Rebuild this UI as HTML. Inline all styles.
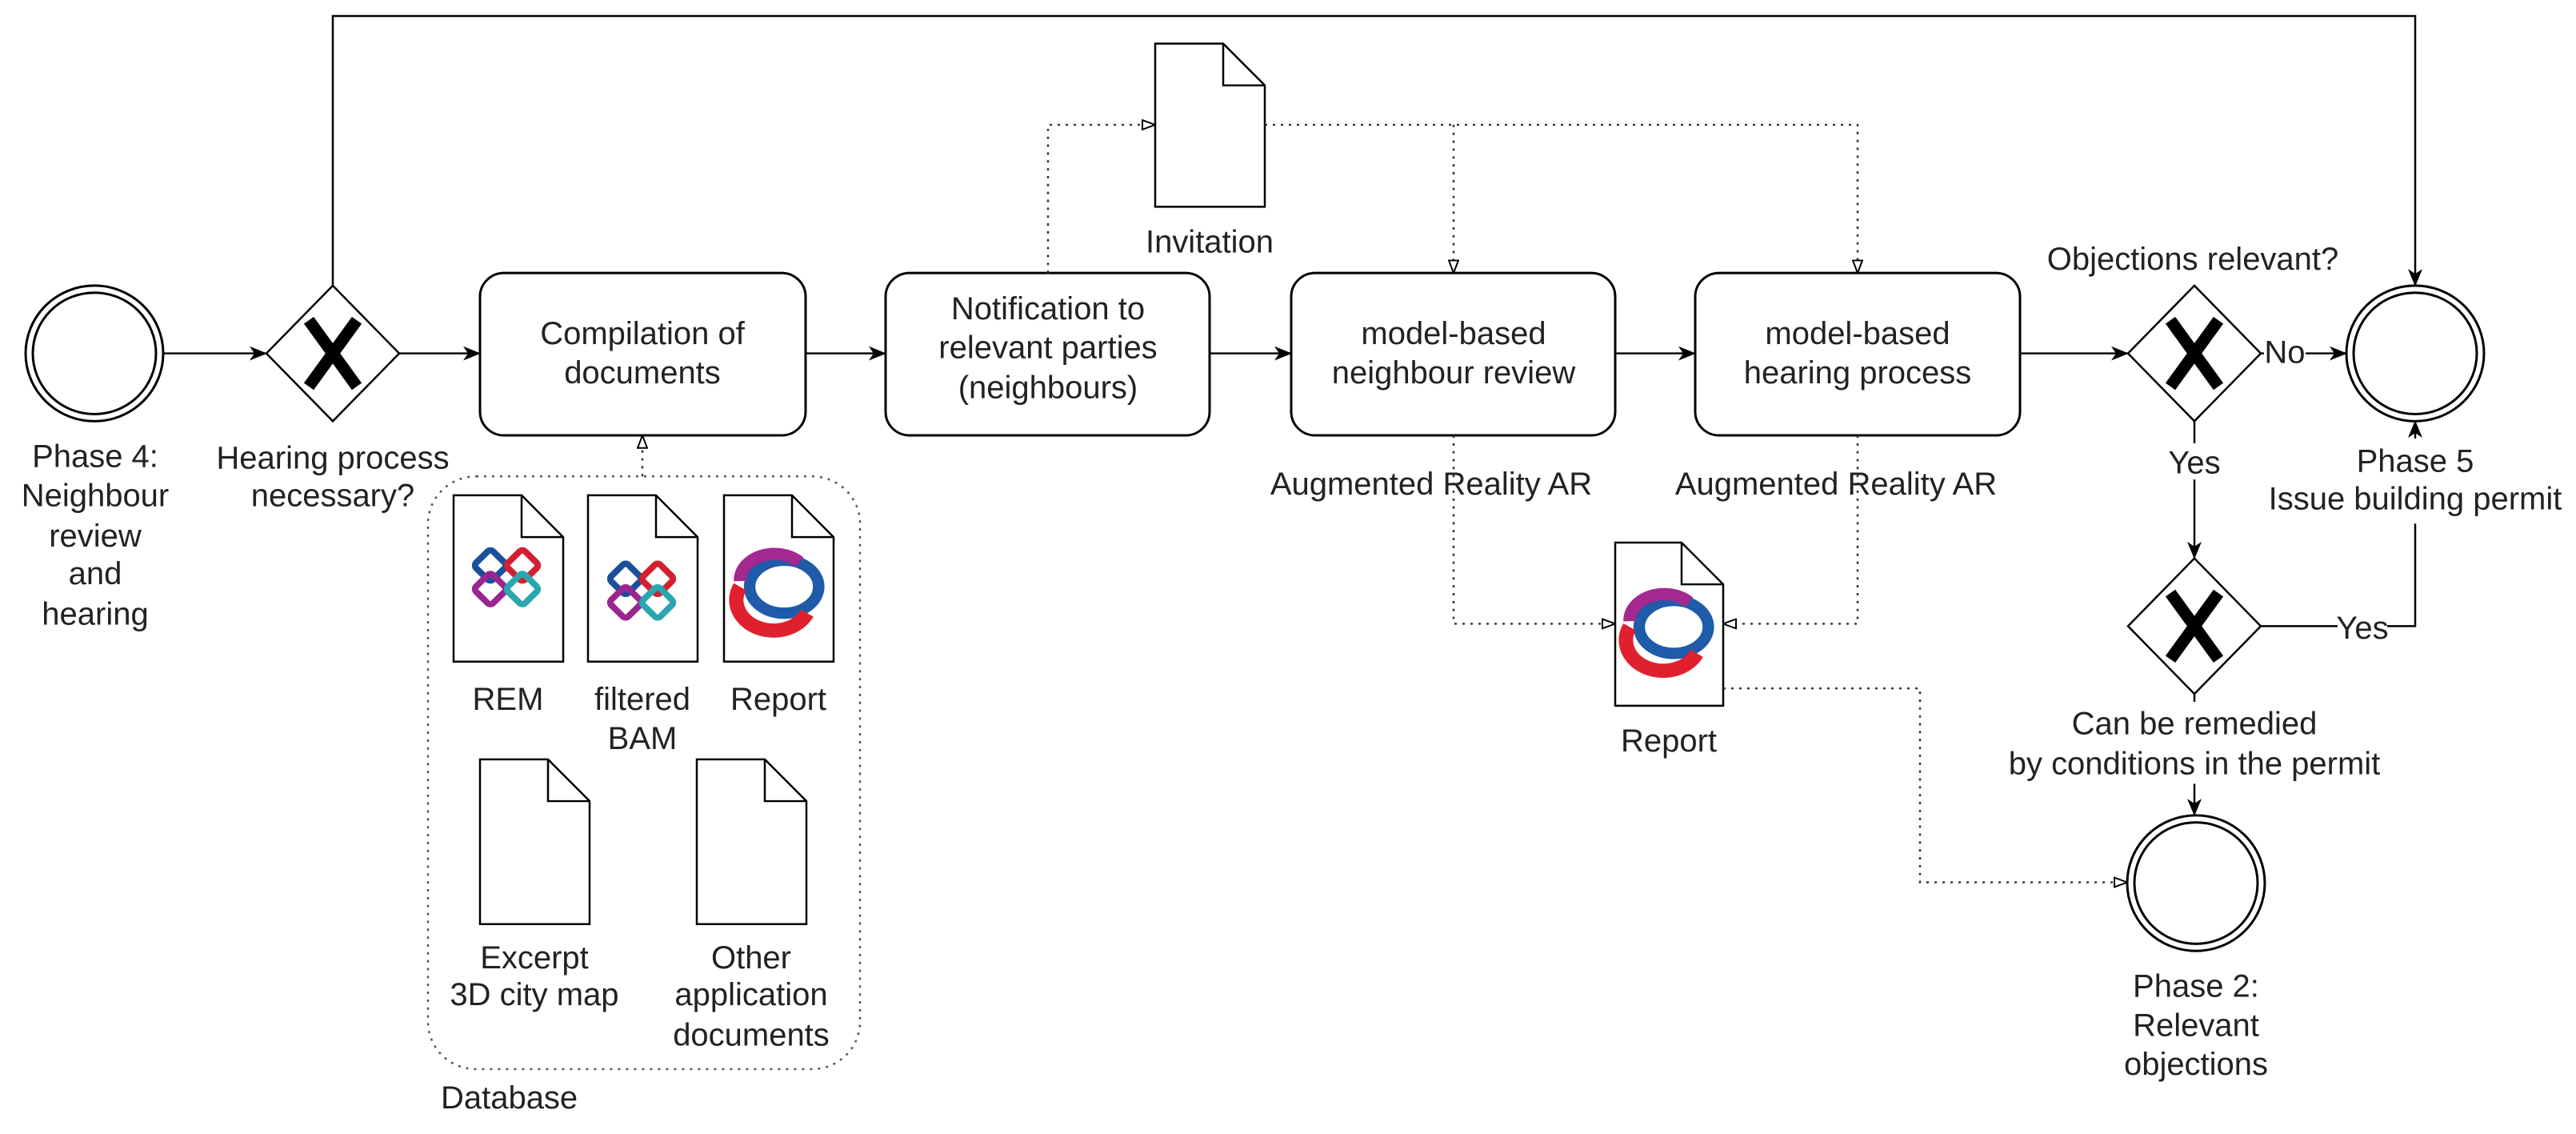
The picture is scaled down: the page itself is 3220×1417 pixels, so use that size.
<!DOCTYPE html>
<html><head><meta charset="utf-8"><style>
html,body{margin:0;padding:0;background:#fff;}
svg{display:block;}
text{font-family:"Liberation Sans",Arial,sans-serif;font-size:40px;fill:#222;text-anchor:middle;}
</style></head><body>
<svg width="3220" height="1417" viewBox="0 0 3220 1417" xmlns="http://www.w3.org/2000/svg">
<defs>
<marker id="fa" viewBox="0 0 22 18" refX="21" refY="9" markerWidth="22" markerHeight="18" markerUnits="userSpaceOnUse" orient="auto"><path d="M0,0 L22,9 L0,18 L6,9 Z" fill="#000"/></marker>
<marker id="oa" viewBox="0 0 18 14" refX="17" refY="7" markerWidth="18" markerHeight="14" markerUnits="userSpaceOnUse" orient="auto"><path d="M1,1 L17,7 L1,13 Z" fill="#fff" stroke="#000" stroke-width="2"/></marker>
<g id="ifc">
<rect x="-36" y="-26" width="30" height="30" rx="5" transform="rotate(45 -21 -11)" fill="none" stroke="#1b4f9c" stroke-width="8"/>
<rect x="4" y="-26" width="30" height="30" rx="5" transform="rotate(45 19 -11)" fill="none" stroke="#d3202e" stroke-width="8"/>
<rect x="-36" y="4" width="30" height="30" rx="5" transform="rotate(45 -21 19)" fill="none" stroke="#9b2590" stroke-width="8"/>
<rect x="4" y="4" width="30" height="30" rx="5" transform="rotate(45 19 19)" fill="none" stroke="#2aa6b0" stroke-width="8"/>
</g>
<g id="rep">
<ellipse cx="6" cy="0" rx="36" ry="28" fill="none" stroke="#1e5ba8" stroke-width="12"/>
<path d="M-40,0 A36,30 0 0 0 30,28" fill="none" stroke="#e0202e" stroke-width="15"/>
<path d="M-40,-6 A36,28 0 0 1 22,-26" fill="none" stroke="#a3288f" stroke-width="13"/>
</g>
</defs>
<g transform="translate(0,0.3) scale(1,0.985)">
<g fill="none" stroke="#000" stroke-width="3">
<circle cx="118" cy="448" r="86"/><circle cx="118" cy="448" r="77"/>
<circle cx="3019" cy="448" r="86"/><circle cx="3019" cy="448" r="77"/>
<circle cx="2745" cy="1120" r="86"/><circle cx="2745" cy="1120" r="77"/>
<path d="M416,362 L499,448 L416,534 L333,448 Z" stroke-width="2.5"/>
<path d="M2743,362 L2826,448 L2743,534 L2660,448 Z" stroke-width="2.5"/>
<path d="M2743,708 L2826,794 L2743,880 L2660,794 Z" stroke-width="2.5"/>
<rect x="600" y="346" width="407" height="206" rx="30"/>
<rect x="1107" y="346" width="405" height="206" rx="30"/>
<rect x="1614" y="346" width="405" height="206" rx="30"/>
<rect x="2119" y="346" width="406" height="206" rx="30"/>
<path d="M567,628 H652 L704,681 V839 H567 Z M652,628 V681 H704" stroke-width="2.5"/>
<path d="M735,628 H820 L872,681 V839 H735 Z M820,628 V681 H872" stroke-width="2.5"/>
<path d="M905,628 H990 L1042,681 V839 H905 Z M990,628 V681 H1042" stroke-width="2.5"/>
<path d="M600,963 H685 L737,1016 V1172 H600 Z M685,963 V1016 H737" stroke-width="2.5"/>
<path d="M871,963 H956 L1008,1016 V1172 H871 Z M956,963 V1016 H1008" stroke-width="2.5"/>
<path d="M1444,55 H1529 L1581,108 V262 H1444 Z M1529,55 V108 H1581" stroke-width="2.5"/>
<path d="M2019,688 H2102 L2154,741 V895 H2019 Z M2102,688 V741 H2154" stroke-width="2.5"/>
<rect x="535" y="604" width="540" height="752" rx="60" stroke-width="2.5" stroke-dasharray="3,7" stroke="#555"/>
</g>
<g stroke="#000" stroke-width="15">
<path d="M386,406 L446,490 M446,406 L386,490"/>
<path d="M2713,406 L2773,490 M2773,406 L2713,490"/>
<path d="M2713,752 L2773,836 M2773,752 L2713,836"/>
</g>
<use href="#ifc" x="634" y="728"/>
<use href="#ifc" x="803" y="745"/>
<use href="#rep" transform="translate(973,744) scale(1.2)"/>
<use href="#rep" transform="translate(2085,795) scale(1.2)"/>
<g fill="none" stroke="#000" stroke-width="2.5">
<path d="M204,448 H333" marker-end="url(#fa)"/>
<path d="M499,448 H600" marker-end="url(#fa)"/>
<path d="M1007,448 H1107" marker-end="url(#fa)"/>
<path d="M1512,448 H1614" marker-end="url(#fa)"/>
<path d="M2019,448 H2119" marker-end="url(#fa)"/>
<path d="M2525,448 H2660" marker-end="url(#fa)"/>
<path d="M2826,448 H2933" marker-end="url(#fa)"/>
<path d="M416,362 V20 H3019 V362" marker-end="url(#fa)"/>
<path d="M2743,534 V708" marker-end="url(#fa)"/>
<path d="M2826,794 H3019 V534" marker-end="url(#fa)"/>
<path d="M2743,880 V1034" marker-end="url(#fa)"/>
</g>
<g fill="none" stroke="#333" stroke-width="2.5" stroke-dasharray="3,7">
<path d="M803,604 V552" marker-end="url(#oa)"/>
<path d="M1310,346 V158 H1444" marker-end="url(#oa)"/>
<path d="M1581,158 H2322 V346" marker-end="url(#oa)"/>
<path d="M1817,158 V346" marker-end="url(#oa)"/>
<path d="M1817,552 V791 H2019" marker-end="url(#oa)"/>
<path d="M2322,552 V791 H2154" marker-end="url(#oa)"/>
<path d="M2154,873 H2400 V1119 H2659" marker-end="url(#oa)"/>
</g>
<rect x="2830" y="425" width="52" height="42" fill="#fff"/>
<rect x="2710" y="562" width="66" height="46" fill="#fff"/>
<rect x="2922" y="775" width="62" height="42" fill="#fff"/>
<rect x="2830" y="556" width="370" height="108" fill="#fff"/>
<rect x="2555" y="890" width="380" height="104" fill="#fff"/>
<text x="119" y="592">Phase 4:</text><text x="119" y="642">Neighbour</text><text x="119" y="693">review</text><text x="119" y="741">and</text><text x="119" y="792">hearing</text>
<text x="416" y="594">Hearing process</text><text x="416" y="642">necessary?</text>
<text x="803" y="436">Compilation of</text><text x="803" y="486">documents</text>
<text x="635" y="900">REM</text>
<text x="803" y="900">filtered</text><text x="803" y="950">BAM</text>
<text x="973" y="900">Report</text>
<text x="668" y="1228">Excerpt</text><text x="668" y="1275">3D city map</text>
<text x="939" y="1228">Other</text><text x="939" y="1275">application</text><text x="939" y="1326">documents</text>
<text x="551" y="1406" style="text-anchor:start">Database</text>
<text x="1310" y="405">Notification to</text><text x="1310" y="454">relevant parties</text><text x="1310" y="505">(neighbours)</text>
<text x="1512" y="320">Invitation</text>
<text x="1817" y="436">model-based</text><text x="1817" y="486">neighbour review</text>
<text x="1789" y="627">Augmented Reality AR</text>
<text x="2295" y="627">Augmented Reality AR</text>
<text x="2086" y="953">Report</text>
<text x="2322" y="436">model-based</text><text x="2322" y="486">hearing process</text>
<text x="2741" y="342">Objections relevant?</text>
<text x="2856" y="460">No</text>
<text x="2743" y="600">Yes</text>
<text x="2953" y="810">Yes</text>
<text x="3019" y="598">Phase 5</text><text x="3019" y="646">Issue building permit</text>
<text x="2743" y="931">Can be remedied</text><text x="2743" y="982">by conditions in the permit</text>
<text x="2745" y="1264">Phase 2:</text><text x="2745" y="1314">Relevant</text><text x="2745" y="1363">objections</text>
</g>
</svg>
</body></html>
